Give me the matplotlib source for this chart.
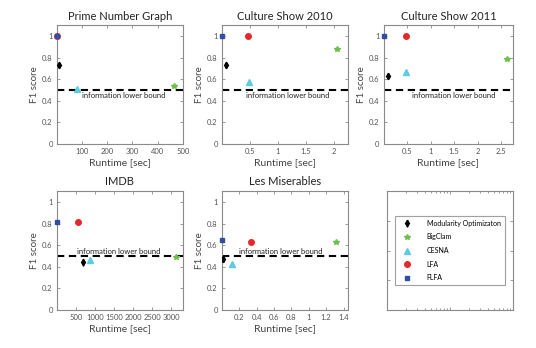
import numpy as np
import matplotlib.pyplot as plt
from matplotlib.transforms import blended_transform_factory

plt.rcParams['font.family'] = ['Lato', 'DejaVu Sans']

# ── Data (runtime [sec], F1 score) ──
titles = ['Prime Number Graph', 'Culture Show 2010', 'Culture Show 2011', 'IMDB', 'Les Miserables']
methods = ['Modularity Optimizaton', 'BigClam', 'CESNA', 'LFA', 'FLFA']

mod_x = [8, 0.08, 0.1, 680, 0.01]
mod_y = [0.73, 0.73, 0.63, 0.44, 0.47]
mod_err = [0.03, 0.03, 0.03, 0.03, 0.03]
bigclam_x = [465, 2.05, 2.62, 3130, 1.31]
bigclam_y = [0.54, 0.88, 0.79, 0.49, 0.63]
cesna_x = [80, 0.48, 0.47, 880, 0.12]
cesna_y = [0.51, 0.57, 0.67, 0.46, 0.43]
lfa_x = [1, 0.47, 0.47, 560, 0.33]
lfa_y = [1.0, 1.0, 1.0, 0.81, 0.63]
flfa_x = [1, 0.005, 0.01, 5, 0.005]
flfa_y = [1.0, 1.0, 1.0, 0.81, 0.65]

xlims = [(0, 500), (0, 2.25), (0, 2.75), (0, 3300), (0, 1.45)]
xticks = [[100, 200, 300, 400, 500],
          [0.5, 1, 1.5, 2],
          [0.5, 1, 1.5, 2, 2.5],
          [500, 1000, 1500, 2000, 2500, 3000],
          [0.2, 0.4, 0.6, 0.8, 1, 1.2, 1.4]]
xticklabels = [['100', '200', '300', '400', '500'],
               ['0.5', '1', '1.5', '2'],
               ['0.5', '1', '1.5', '2', '2.5'],
               ['500', '1000', '1500', '2000', '2500', '3000'],
               ['0.2', '0.4', '0.6', '0.8', '1', '1.2', '1.4']]
text_x = [0.53, 0.52, 0.54, 0.49, 0.47]
bound = 0.5

# colours
c_mod = 'black'
c_big = '#6cc04a'
c_ces = '#5ccbe3'
c_lfa = '#e8262b'
c_flfa = '#2e4fa3'
edge = '#8a8a8a'
tickc = '#555555'

fig = plt.figure(figsize=(5.36, 3.48), dpi=100)
positions = [[0.106, 0.586, 0.235, 0.342],
             [0.414, 0.586, 0.235, 0.342],
             [0.716, 0.586, 0.241, 0.342],
             [0.106, 0.109, 0.235, 0.342],
             [0.414, 0.109, 0.235, 0.342]]

handles = None
for i, pos in enumerate(positions):
    ax = fig.add_axes(pos)
    ax.axhline(bound, color='black', linestyle='--', linewidth=1.5, dashes=(3.5, 2.2), zorder=1)
    h_lfa, = ax.plot(lfa_x[i], lfa_y[i], 'o', color=c_lfa, markersize=4, zorder=3, clip_on=False)
    h_flfa, = ax.plot(flfa_x[i], flfa_y[i], 's', color=c_flfa, markersize=3.3, zorder=4, clip_on=False)
    h_ces, = ax.plot(cesna_x[i], cesna_y[i], '^', color=c_ces, markersize=4, zorder=3)
    h_big, = ax.plot(bigclam_x[i], bigclam_y[i], '*', color=c_big, markersize=4.2, zorder=3)
    eb = ax.errorbar(mod_x[i], mod_y[i], yerr=mod_err[i], fmt='d', color=c_mod,
                     markersize=3.3, elinewidth=1, capsize=0, zorder=3)
    handles = [eb, h_big, h_ces, h_lfa, h_flfa]

    bt = blended_transform_factory(ax.transAxes, ax.transData)
    if i < 3:
        ax.text(text_x[i], bound - 0.055, 'information lower bound', transform=bt,
                fontsize=5.5, ha='center', va='center', color='#222222')
    else:
        ax.text(text_x[i], bound + 0.04, 'information lower bound', transform=bt,
                fontsize=5.5, ha='center', va='center', color='#222222')

    ax.set_xlim(*xlims[i])
    ax.set_ylim(0, 1.1)
    ax.set_xticks(xticks[i])
    ax.set_xticklabels(xticklabels[i])
    ax.set_yticks([0, 0.2, 0.4, 0.6, 0.8, 1])
    ax.set_yticklabels(['0', '0.2', '0.4', '0.6', '0.8', '1'])
    ax.tick_params(direction='in', length=2, width=0.6, colors=edge, labelcolor=tickc,
                   labelsize=5.5, top=True, right=True, pad=3)
    for s in ax.spines.values():
        s.set_color(edge)
        s.set_linewidth(0.8)
    ax.set_title(titles[i], fontsize=8, color='#222222', pad=4)
    ax.set_xlabel('Runtime [sec]', fontsize=7.5, color='#444444', labelpad=2)
    ax.set_ylabel('F1 score', fontsize=7, color='#444444', labelpad=2)

# legend panel
lax = fig.add_axes([0.722, 0.109, 0.235, 0.342])
lax.set_xscale('log')
lax.set_xlim(1, 100)
lax.set_ylim(0, 1)
lax.set_yticks([0.25, 0.5, 0.75])
lax.tick_params(which='both', direction='in', length=2, width=0.6, colors=edge,
                labelbottom=False, labelleft=False, top=True, right=True)
lax.tick_params(which='minor', length=1.5)
for s in lax.spines.values():
    s.set_color(edge)
    s.set_linewidth(0.8)
leg = lax.legend(handles, methods, loc='center', fontsize=5, frameon=True,
                 fancybox=False, edgecolor=edge, handlelength=2.2, handletextpad=1.8,
                 borderpad=0.6, labelspacing=0.95, borderaxespad=0)
leg.get_frame().set_linewidth(0.8)

fig.savefig('out.png', dpi=100)
